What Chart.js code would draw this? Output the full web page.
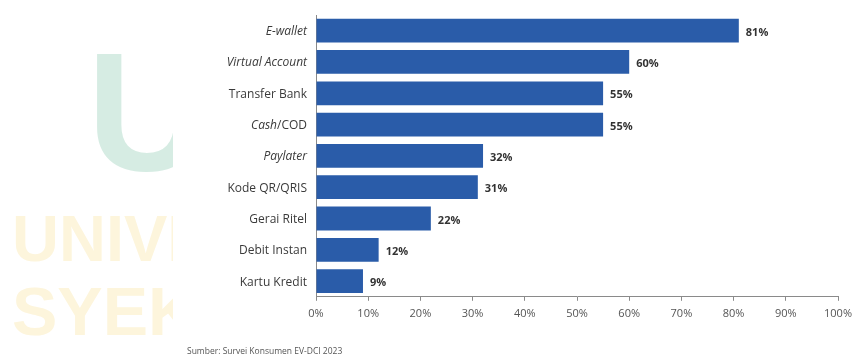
<!DOCTYPE html>
<html>
<head>
<meta charset="utf-8">
<script src="https://cdn.jsdelivr.net/npm/chart.js@4.4.1/dist/chart.umd.min.js"></script>
<style>
  html, body { margin: 0; padding: 0; background: #ffffff; }
  #wrap { position: relative; width: 853px; height: 356px; overflow: hidden; }
  canvas { position: absolute; left: 0; top: 0; }
  #src { position: absolute; left: 187px; top: 345px; font-family: "Open Sans", sans-serif; font-size: 8.5px; color: #555; white-space: nowrap; }
</style>
</head>
<body>
<div id="wrap">
  <canvas id="c" width="853" height="356"></canvas>
  <div id="src">Sumber: Survei Konsumen EV-DCI 2023</div>
</div>
<script>
// ---- data ----
const categories = ['E-wallet', 'Virtual Account', 'Transfer Bank', 'Cash/COD', 'Paylater', 'Kode QR/QRIS', 'Gerai Ritel', 'Debit Instan', 'Kartu Kredit'];
const italicParts = ['E-wallet', 'Virtual Account', '', 'Cash', 'Paylater', '', '', '', ''];
const shares = [81, 60, 55, 55, 32, 31, 22, 12, 9];
const xTicks = [0, 10, 20, 30, 40, 50, 60, 70, 80, 90, 100];

const FONT = '"Open Sans", "Noto Sans", sans-serif';

const watermark = {
  id: 'watermark',
  beforeDraw(chart) {
    const ctx = chart.ctx;
    ctx.save();
    ctx.beginPath();
    ctx.rect(0, 0, 173, 356);
    ctx.clip();
    ctx.textBaseline = 'alphabetic';
    ctx.textAlign = 'left';
    ctx.fillStyle = '#d6ece3';
    ctx.font = 'bold 168px "Liberation Sans", Arial, sans-serif';
    ctx.fillText('U', 87, 170);
    ctx.fillStyle = '#fdf5dc';
    ctx.font = 'bold 65px "Liberation Sans", Arial, sans-serif';
    ctx.fillText('UNIVERSITAS', 12, 261);
    ctx.font = 'bold 68px "Liberation Sans", Arial, sans-serif';
    ctx.fillText('SYEKH', 12, 335);
    ctx.restore();
  }
};

const labelsPlugin = {
  id: 'labelsPlugin',
  afterDraw(chart) {
    const ctx = chart.ctx;
    const y = chart.scales.y;
    const x = chart.scales.x;
    ctx.save();
    ctx.textBaseline = 'middle';
    // category labels with partial italics
    categories.forEach((cat, i) => {
      const py = y.getPixelForValue(i);
      const it = italicParts[i];
      const rest = it ? cat.slice(it.length) : cat;
      ctx.fillStyle = '#3a3a3a';
      ctx.font = '12px ' + FONT;
      const wRest = ctx.measureText(rest).width;
      ctx.font = 'italic 12px ' + FONT;
      const wIt = it ? ctx.measureText(it).width : 0;
      const right = y.right - 9;
      const start = right - wRest - wIt;
      ctx.textAlign = 'left';
      if (it) { ctx.font = 'italic 12px ' + FONT; ctx.fillText(it, start, py + 1); }
      if (rest) { ctx.font = '12px ' + FONT; ctx.fillText(rest, start + wIt, py + 1); }
    });
    // value labels
    ctx.font = 'bold 11px ' + FONT;
    ctx.fillStyle = '#333333';
    ctx.textAlign = 'left';
    shares.forEach((v, i) => {
      ctx.fillText(v + '%', x.getPixelForValue(v) + 7, y.getPixelForValue(i) + 2);
    });
    ctx.restore();
  }
};

new Chart(document.getElementById('c'), {
  type: 'bar',
  data: {
    labels: categories,
    datasets: [{
      data: shares,
      backgroundColor: '#2a5ca9',
      borderWidth: 0,
      barPercentage: 0.76,
      categoryPercentage: 1.0
    }]
  },
  options: {
    indexAxis: 'y',
    responsive: false,
    animation: false,
    devicePixelRatio: 1,
    layout: { padding: { top: 15, right: 15, bottom: 30, left: 0 } },
    plugins: { legend: { display: false }, tooltip: { enabled: false } },
    scales: {
      x: {
        type: 'linear',
        min: 0, max: 100,
        afterBuildTicks(scale) { scale.ticks = xTicks.map(v => ({ value: v })); },
        afterFit(scale) { scale.paddingRight = 0; scale.paddingLeft = 0; },
        ticks: {
          callback: v => v + '%',
          color: '#555555',
          font: { family: FONT, size: 11 },
          padding: 6,
          maxRotation: 0
        },
        grid: { drawOnChartArea: false, drawTicks: true, tickLength: 4, color: '#8a8a8a', lineWidth: 1 },
        border: { display: true, color: '#8a8a8a', width: 1 }
      },
      y: {
        type: 'category',
        ticks: { display: false },
        afterFit(scale) { scale.width = 316; },
        grid: { drawOnChartArea: false, drawTicks: false },
        border: { display: true, color: '#8a8a8a', width: 1 }
      }
    }
  },
  plugins: [watermark, labelsPlugin]
});
</script>
</body>
</html>
